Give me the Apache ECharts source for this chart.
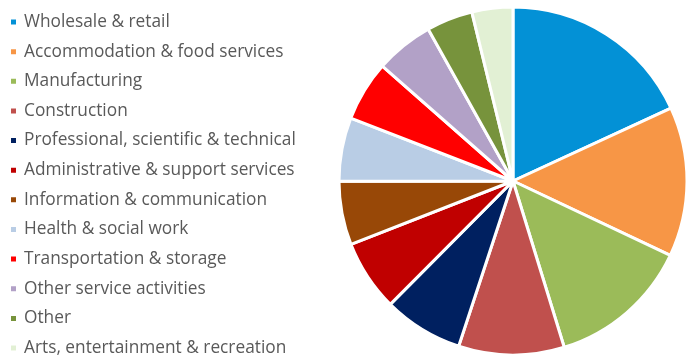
<!DOCTYPE html>
<html>
<head>
<meta charset="utf-8">
<script src="https://cdn.jsdelivr.net/npm/echarts@6/dist/echarts.min.js"></script>
<style>
  html, body { margin: 0; padding: 0; background: #ffffff; }
  #chart { width: 686px; height: 355px; }
</style>
</head>
<body>
<div id="chart"></div>
<script>
// Share of businesses by industry (%)
const categories = [
  'Wholesale & retail',
  'Accommodation & food services',
  'Manufacturing',
  'Construction',
  'Professional, scientific & technical',
  'Administrative & support services',
  'Information & communication',
  'Health & social work',
  'Transportation & storage',
  'Other service activities',
  'Other',
  'Arts, entertainment & recreation'
];
const shares = [18.1, 13.9, 13.2, 9.8, 7.4, 6.6, 5.9, 5.9, 5.6, 5.4, 4.3, 3.8];
const colors = [
  '#0391D6', '#F79646', '#9BBB59', '#C0504D', '#002060', '#C00000',
  '#984807', '#B9CDE5', '#FF0000', '#B2A1C7', '#77933C', '#E2F0D4'
];

const chart = echarts.init(document.getElementById('chart'), null, { renderer: 'canvas' });
chart.setOption({
  animation: false,
  color: colors,
  legend: {
    orient: 'vertical',
    left: 9,
    top: 13,
    height: 420,
    padding: 0,
    icon: 'rect',
    itemWidth: 7,
    itemHeight: 7,
    itemGap: 11.64,
    selectedMode: false,
    textStyle: {
      fontFamily: 'Open Sans',
      fontSize: 17.3,
      lineHeight: 18,
      color: '#595959',
      padding: [0, 0, 0, 2]
    },
    data: categories
  },
  series: [{
    type: 'pie',
    center: [513, 181],
    radius: 174,
    startAngle: 90,
    clockwise: true,
    label: { show: false },
    labelLine: { show: false },
    emphasis: { disabled: true },
    itemStyle: { borderColor: '#ffffff', borderWidth: 3 },
    data: categories.map((name, i) => ({ name, value: shares[i] }))
  }]
});
</script>
</body>
</html>
